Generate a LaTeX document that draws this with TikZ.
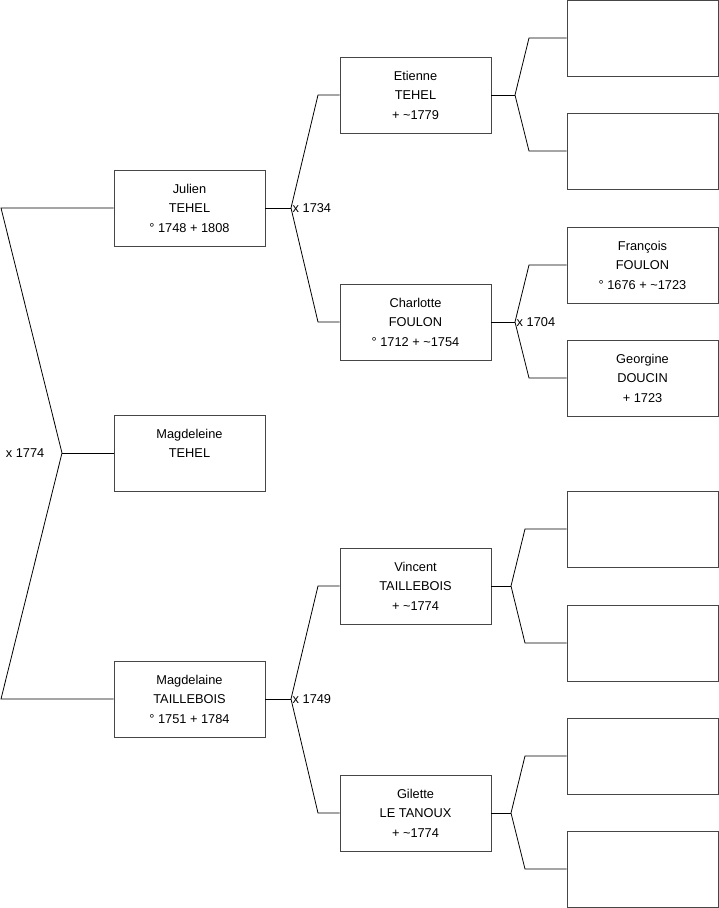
\documentclass[tikz,border=0pt]{standalone}
\usepackage{fontspec}
\setmainfont{Liberation Sans}
\usepackage{tikz}
\usetikzlibrary{calc,positioning}
\usepackage{xcolor}
\definecolor{boxgray}{RGB}{70,70,70}

\tikzset{
  person/.style={draw=boxgray, line width=0.9pt, rectangle, align=center,
    minimum width=151pt, minimum height=76pt, inner sep=0pt,
    font=\fontsize{12.8}{19.5}\selectfont},
  link/.style={line width=0.8pt},
  union/.style={inner sep=1.5pt, font=\fontsize{12.8}{14}\selectfont}
}

\begin{document}
\begin{tikzpicture}[x=1pt,y=-1pt]
      \useasboundingbox (0,0) rectangle (719,908);
      % generation 1
      \node[person] (julien) at (189.5,208) {Julien\\TEHEL\\\textdegree{} 1748 + 1808};
      \node[person] (magdeleine) at (189.5,453) {Magdeleine\\TEHEL\\\mbox{}};
      \node[person] (magdelaine) at (189.5,699) {Magdelaine\\TAILLEBOIS\\\textdegree{} 1751 + 1784};
      % generation 2
      \node[person] (etienne) at (415.5,95) {Etienne\\TEHEL\\ + \textasciitilde 1779};
      \node[person] (charlotte) at (415.5,322) {Charlotte\\FOULON\\\textdegree{} 1712 + \textasciitilde 1754};
      \node[person] (vincent) at (415.5,586) {Vincent\\TAILLEBOIS\\ + \textasciitilde 1774};
      \node[person] (gilette) at (415.5,813) {Gilette\\LE TANOUX\\ + \textasciitilde 1774};
      % generation 3
      \node[person] (p1) at (642.5,38) {};
      \node[person] (p2) at (642.5,151) {};
      \node[person] (francois) at (642.5,265) {François\\FOULON\\\textdegree{} 1676 + \textasciitilde 1723};
      \node[person] (georgine) at (642.5,378) {Georgine\\DOUCIN\\ + 1723};
      \node[person] (p5) at (642.5,529) {};
      \node[person] (p6) at (642.5,643) {};
      \node[person] (p7) at (642.5,756) {};
      \node[person] (p8) at (642.5,869) {};

      % forks
      \coordinate (m0) at (62,453);
      \coordinate (m0u) at (1,208);
      \coordinate (m0d) at (1,699);
      \draw[link] (julien.west) -- (m0u) -- (m0) -- (m0d) -- (magdelaine.west);
      \draw[link] (m0) -- (magdeleine.west);
      \node[union, anchor=east] (u0) at (46,453) {x 1774};

      \coordinate (m1) at (291,208);
      \coordinate (m1u) at (318,95);
      \coordinate (m1d) at (318,322);
      \draw[link] (julien.east) -- (m1);
      \draw[link] (etienne.west) -- (m1u) -- (m1) -- (m1d) -- (charlotte.west);
      \node[union, anchor=west] (u1) at (m1) {x 1734};

      \coordinate (m2) at (291,699);
      \coordinate (m2u) at (318,586);
      \coordinate (m2d) at (318,813);
      \draw[link] (magdelaine.east) -- (m2);
      \draw[link] (vincent.west) -- (m2u) -- (m2) -- (m2d) -- (gilette.west);
      \node[union, anchor=west] (u2) at (m2) {x 1749};

      \coordinate (m3) at (515,95);
      \coordinate (m3u) at (529,38);
      \coordinate (m3d) at (529,151);
      \draw[link] (etienne.east) -- (m3);
      \draw[link] (p1.west) -- (m3u) -- (m3) -- (m3d) -- (p2.west);

      \coordinate (m4) at (515,322);
      \coordinate (m4u) at (529,265);
      \coordinate (m4d) at (529,378);
      \draw[link] (charlotte.east) -- (m4);
      \draw[link] (francois.west) -- (m4u) -- (m4) -- (m4d) -- (georgine.west);
      \node[union, anchor=west] (u4) at (m4) {x 1704};

      \coordinate (m5) at (511,586);
      \coordinate (m5u) at (525,529);
      \coordinate (m5d) at (525,643);
      \draw[link] (vincent.east) -- (m5);
      \draw[link] (p5.west) -- (m5u) -- (m5) -- (m5d) -- (p6.west);

      \coordinate (m6) at (511,813);
      \coordinate (m6u) at (525,756);
      \coordinate (m6d) at (525,869);
      \draw[link] (gilette.east) -- (m6);
      \draw[link] (p7.west) -- (m6u) -- (m6) -- (m6d) -- (p8.west);
    \end{tikzpicture}
\end{document}
